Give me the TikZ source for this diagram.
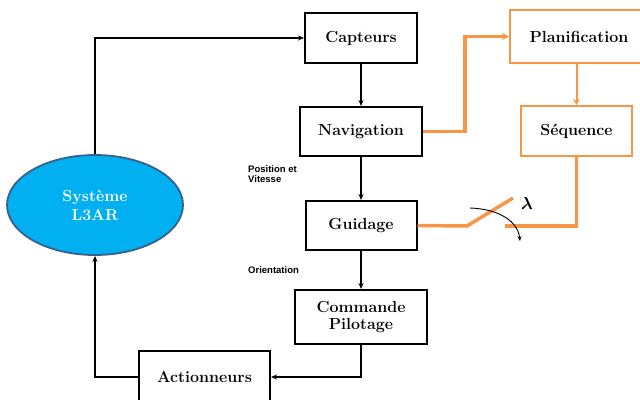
\documentclass[tikz,border=0pt]{standalone}
\usepackage{fontspec}
\newfontfamily\labfont{Liberation Sans}
\usetikzlibrary{shapes.geometric,arrows.meta}
\definecolor{orng}{RGB}{247,150,70}
\definecolor{ellfill}{RGB}{0,176,240}
\definecolor{elldraw}{RGB}{55,96,140}
\tikzset{
  blk/.style={draw=black,line width=2pt,fill=white,font=\fontsize{16}{19}\selectfont\bfseries,align=center,inner sep=0pt},
  obox/.style={draw=orng,line width=2pt,fill=white,font=\fontsize{16}{19}\selectfont\bfseries,align=center,inner sep=0pt},
  conn/.style={draw=black,line width=1.2pt,-{Stealth[length=6pt,width=5pt]}},
  oconn/.style={draw=orng,line width=3.5pt},
  small/.style={font=\labfont\fontsize{9.5}{10.5}\selectfont\bfseries,align=left,inner sep=0pt,anchor=west}
}
\begin{document}
\begin{tikzpicture}[x=1pt,y=-1pt]
\useasboundingbox (0,0) rectangle (640,399);
\clip (0,0) rectangle (640,399);
\node[blk,minimum width=112,minimum height=50] (capt) at (361,38) {Capteurs};
\node[blk,minimum width=122,minimum height=49] (navi) at (361,131.5) {Navigation};
\node[blk,minimum width=111,minimum height=49] (guid) at (361,225.5) {Guidage};
\node[blk,minimum width=132,minimum height=54] (comm) at (361,317) {Commande\\[-2pt]Pilotage};
\node[blk,minimum width=131,minimum height=52] (actn) at (204.5,377) {Actionneurs};
\node[obox,minimum width=138,minimum height=53] (plan) at (579,36.5) {Planification};
\node[obox,minimum width=111,minimum height=50] (sequ) at (576.5,131) {Séquence};
\node[ellipse,draw=elldraw,line width=1.8pt,fill=ellfill,minimum width=176,minimum height=100,
      text=white,font=\fontsize{16}{19}\selectfont\bfseries,align=center] (sys) at (95,205) {Système\\L3AR};
% black connectors
\draw[conn] (sys.north) |- (capt.west);
\draw[conn] (capt.south) -- (navi.north);
\draw[conn] (navi.south) -- (guid.north);
\draw[conn] (guid.south) -- (comm.north);
\draw[conn] (comm.south) |- (actn.east);
\draw[conn] (actn.west) -| (sys.south);
% orange connectors
\draw[oconn,-{Stealth[length=7pt,width=7pt]}] (navi.east) -- (465,131.5) |- (plan.west);
\draw[draw=orng,line width=2pt,-{Stealth[length=6pt,width=7pt]}] (plan.south -| sequ.north) -- (sequ.north);
\coordinate (sw1) at (467,226);
\coordinate (sw2) at (513,198);
\coordinate (sw3) at (505,226);
\draw[oconn] (guid.east) -- (sw1) -- (sw2);
\draw[oconn] (sw3) -| (sequ.south);
\draw[line width=0.9pt,-{Stealth[length=5pt,width=4pt]}] (470,208) .. controls (500,209) and (518,222) .. (520,241);
\node[font=\fontsize{17}{19}\selectfont\boldmath] (lam) at (527,203) {$\lambda$};
% small labels
\node[small] (pv) at (248,174) {Position et\\Vitesse};
\node[small] (ori) at (248,270) {Orientation};
\end{tikzpicture}
\end{document}
